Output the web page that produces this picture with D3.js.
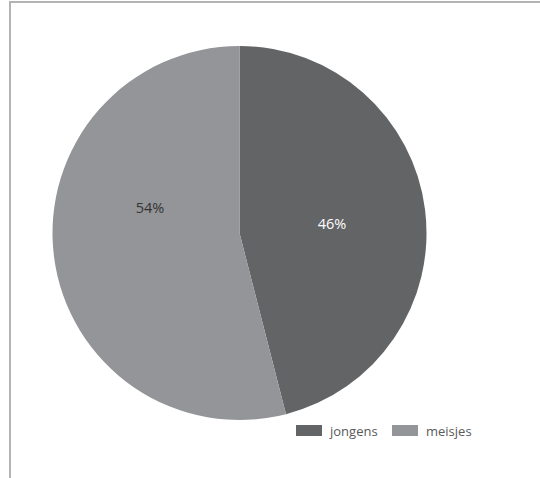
<!DOCTYPE html>
<html>
<head>
<meta charset="utf-8">
<script src="https://cdn.jsdelivr.net/npm/d3@7"></script>
<style>
html,body{margin:0;padding:0;background:#fff;}
svg{display:block;}
text{font-family:"Open Sans",sans-serif;}
</style>
</head>
<body>
<svg id="chart" width="540" height="478"></svg>
<script>
const categories = ["jongens", "meisjes"];
const values = [46, 54];
const labels = ["46%", "54%"];
const colors = ["#636466", "#939598"];
const labelColors = ["#ffffff", "#333333"];

const svg = d3.select("#chart");
const cx = 239.5, cy = 233, r = 187;

// frame
svg.append("line").attr("x1", 10).attr("x2", 540).attr("y1", 2).attr("y2", 2)
  .attr("stroke", "#b3b3b3").attr("stroke-width", 2);
svg.append("line").attr("x1", 10).attr("x2", 10).attr("y1", 1).attr("y2", 478)
  .attr("stroke", "#b3b3b3").attr("stroke-width", 2);

const pie = d3.pie().sort(null).value(d => d)(values);
const arc = d3.arc().innerRadius(0).outerRadius(r);
const g = svg.append("g").attr("transform", `translate(${cx},${cy})`);
g.selectAll("path").data(pie).join("path")
  .attr("d", arc).attr("fill", (d, i) => colors[i]);

// label placement: radius ~half, angle shifted towards top (layout constant)
const labelR = 93;
const angleShift = [0.03, 0.4];
g.selectAll("text.lbl").data(pie).join("text")
  .attr("class", "lbl")
  .attr("x", (d, i) => labelR * Math.sin((d.startAngle + d.endAngle) / 2 + angleShift[i]))
  .attr("y", (d, i) => -labelR * Math.cos((d.startAngle + d.endAngle) / 2 + angleShift[i]))
  .attr("dy", "0.35em")
  .attr("text-anchor", "middle")
  .attr("font-size", 14.5)
  .attr("fill", (d, i) => labelColors[i])
  .text((d, i) => labels[i]);

// legend
const legX = [296, 392];
const leg = svg.append("g");
categories.forEach((c, i) => {
  leg.append("rect").attr("x", legX[i]).attr("y", 425).attr("width", 26).attr("height", 11)
    .attr("fill", colors[i]);
  leg.append("text").attr("x", legX[i] + 34).attr("y", 435.5)
    .attr("font-size", 13).attr("fill", "#595959").text(c);
});
</script>
</body>
</html>
